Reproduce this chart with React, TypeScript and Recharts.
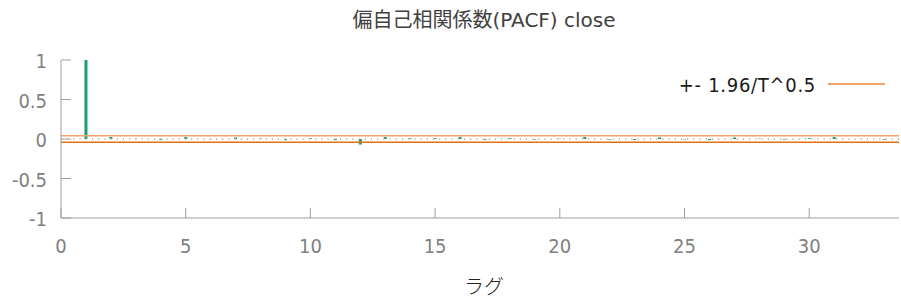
import { ComposedChart, Bar, XAxis, YAxis, ReferenceLine } from "recharts"

const LAGS = [
  1, 2, 3, 4, 5, 6, 7, 8, 9, 10, 11, 12, 13, 14, 15, 16, 17,
  18, 19, 20, 21, 22, 23, 24, 25, 26, 27, 28, 29, 30, 31, 32, 33,
]
const PACF = [
  1.0, 0.025, 0.003, -0.015, 0.025, -0.003, 0.02, 0.006, -0.015, 0.01, -0.015,
  -0.07, 0.025, 0.01, 0.01, 0.025, -0.01, 0.01, -0.008, 0.005, 0.025, -0.008,
  -0.012, 0.02, -0.006, -0.015, 0.02, 0.005, -0.008, 0.01, 0.025, 0.002, -0.008,
]
const X_TICKS = [0, 5, 10, 15, 20, 25, 30]
const Y_TICKS = [-1, -0.5, 0, 0.5, 1]
const CONF = 0.042 // 1.96 / sqrt(T)

const data = LAGS.map((lag, i) => ({ lag, pacf: PACF[i] }))

const AXIS = "#a0a0a0"
const LABEL = "#808080"
const GREEN = "#1b9e77"
const FONT = "'DejaVu Sans Condensed', 'DejaVu Sans', sans-serif"

function XTick({ x, y, payload }: any) {
  return (
    <g>
      <line x1={x} y1={y} x2={x} y2={y - 10} stroke={AXIS} />
      <text x={x} y={y + 35} textAnchor="middle" fill={LABEL} fontSize={20} fontFamily={FONT}>
        {payload.value}
      </text>
    </g>
  )
}

function YTick({ x, y, payload }: any) {
  return (
    <g>
      <line x1={x} y1={y} x2={x + 10} y2={y} stroke={AXIS} />
      <text x={x - 14} y={y + 8} textAnchor="end" fill={LABEL} fontSize={20} fontFamily={FONT}>
        {payload.value}
      </text>
    </g>
  )
}

export default function App() {
  return (
    <div style={{ position: "absolute", left: 0, top: 0, width: 901, height: 301, background: "#fff" }}>
      <ComposedChart
        width={901}
        height={301}
        data={data}
        margin={{ top: 60, right: 2, bottom: 0, left: 0 }}
      >
        <XAxis
          type="number"
          dataKey="lag"
          domain={[0, 33.6]}
          ticks={X_TICKS}
          allowDataOverflow
          height={83}
          tickSize={0}
          tickMargin={0}
          tickLine={false}
          axisLine={{ stroke: AXIS }}
          tick={<XTick />}
        />
        <YAxis
          type="number"
          domain={[-1, 1]}
          ticks={Y_TICKS}
          width={61}
          tickSize={0}
          tickMargin={0}
          tickLine={false}
          axisLine={{ stroke: AXIS }}
          tick={<YTick />}
        />
        <ReferenceLine y={0} stroke="#b8b8b8" strokeWidth={2} strokeDasharray="1 5.2" />
        <ReferenceLine y={CONF} stroke="#f2a26a" strokeWidth={1.5} />
        <ReferenceLine y={-CONF} stroke="#e5700f" strokeWidth={1.5} />
        <Bar dataKey="pacf" fill={GREEN} barSize={3} isAnimationActive={false} />
      </ComposedChart>
      <div
        style={{
          position: "absolute", left: 0, width: 968, top: 8, textAlign: "center",
          fontFamily: "'DejaVu Sans', 'Noto Sans CJK JP', sans-serif", fontSize: 20,
          color: "#404040", lineHeight: "24px",
        }}
      >
        偏自己相関係数(PACF) close
      </div>
      <div
        style={{
          position: "absolute", right: 901 - 816, top: 73, fontFamily: FONT,
          fontSize: 20, letterSpacing: 0.7, color: "#1a1a1a", lineHeight: "24px", whiteSpace: "nowrap",
        }}
      >
        +- 1.96/T^0.5
      </div>
      <div style={{ position: "absolute", left: 828, top: 83, width: 57, height: 0, borderTop: "2px solid #f2a26a" }} />
      <div
        style={{
          position: "absolute", left: 0, width: 968, top: 274, textAlign: "center",
          fontFamily: "'Noto Sans CJK JP', sans-serif", fontSize: 20, fontWeight: 300,
          color: "#222", lineHeight: "24px",
        }}
      >
        ラグ
      </div>
    </div>
  )
}
